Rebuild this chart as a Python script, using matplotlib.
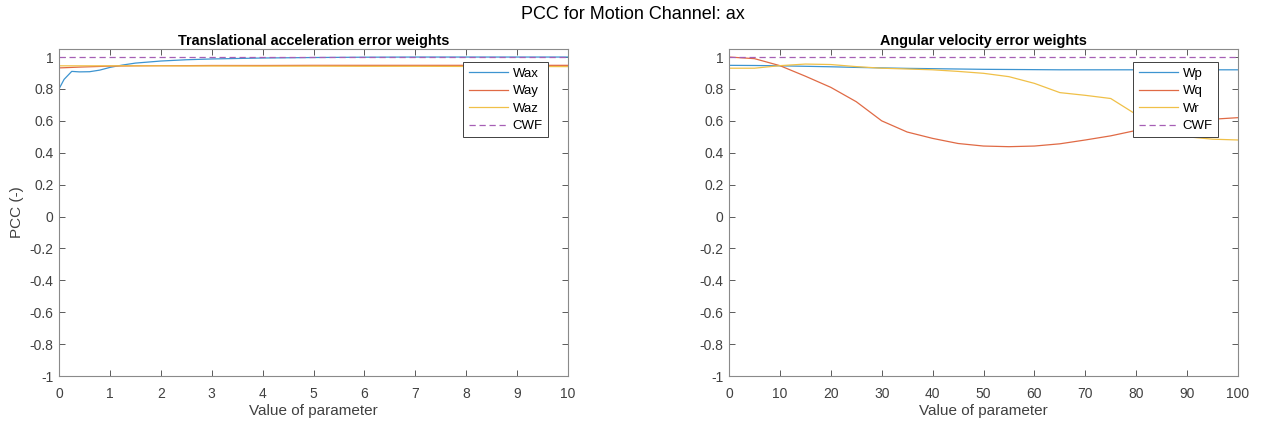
import numpy as np
import matplotlib
matplotlib.use("Agg")
import matplotlib.pyplot as plt

plt.rcParams['font.family'] = ['Liberation Sans', 'DejaVu Sans']

# translational acceleration weights (parameter 0..10)
x_trans = [0, 0.1, 0.25, 0.4, 0.6, 0.8, 1.0, 1.25, 1.5, 2.0, 2.5, 3.0, 4.0, 5.0, 6.0, 7.0, 8.0, 9.0, 10.0]
wax = [0.80, 0.86, 0.91, 0.907, 0.908, 0.918, 0.935, 0.950, 0.962, 0.975, 0.983, 0.988, 0.994, 0.997, 0.999, 1.0, 1.0, 1.0, 1.0]
way = [0.932, 0.933, 0.935, 0.937, 0.939, 0.941, 0.943, 0.944, 0.945, 0.946, 0.946, 0.947, 0.947, 0.948, 0.948, 0.948, 0.948, 0.948, 0.948]
waz = [0.945, 0.945, 0.945, 0.945, 0.945, 0.945, 0.945, 0.945, 0.945, 0.945, 0.944, 0.944, 0.943, 0.943, 0.942, 0.942, 0.941, 0.941, 0.940]

# angular velocity weights (parameter 0..100)
x_ang = [0, 5, 10, 15, 20, 25, 30, 35, 40, 45, 50, 55, 60, 65, 70, 75, 80, 85, 90, 95, 100]
wp = [0.948, 0.947, 0.945, 0.942, 0.939, 0.935, 0.932, 0.929, 0.927, 0.925, 0.923, 0.922, 0.921, 0.920, 0.920, 0.920, 0.920, 0.920, 0.920, 0.920, 0.920]
wq = [1.0, 0.99, 0.946, 0.88, 0.81, 0.72, 0.60, 0.53, 0.49, 0.458, 0.442, 0.438, 0.442, 0.456, 0.48, 0.506, 0.54, 0.57, 0.60, 0.61, 0.62]
wr = [0.93, 0.93, 0.946, 0.956, 0.953, 0.94, 0.93, 0.925, 0.92, 0.91, 0.898, 0.877, 0.835, 0.777, 0.76, 0.74, 0.64, 0.54, 0.50, 0.485, 0.48]
cwf = 1.0

yticks = [-1, -0.8, -0.6, -0.4, -0.2, 0, 0.2, 0.4, 0.6, 0.8, 1]
ytick_labels = ['-1', '-0.8', '-0.6', '-0.4', '-0.2', '0', '0.2', '0.4', '0.6', '0.8', '1']

colors = ['#3d94d0', '#e06a45', '#f0c048']
cwf_color = '#a65fb5'
text_color = '#404040'

panels = [
    ('Translational acceleration error weights', x_trans, [wax, way, waz], ['Wax', 'Way', 'Waz'],
     (0, 10), np.arange(0, 11, 1)),
    ('Angular velocity error weights', x_ang, [wp, wq, wr], ['Wp', 'Wq', 'Wr'],
     (0, 100), np.arange(0, 101, 10)),
]

fig = plt.figure(figsize=(12.66, 4.23), dpi=100)
fig.suptitle('PCC for Motion Channel: ax', fontsize=13, y=0.985)

lefts = [59 / 1266, 729 / 1266]
for i, (title, xs, series, names, xlim, xticks) in enumerate(panels):
    ax = fig.add_axes([lefts[i], 0.111, 509 / 1266, 0.773])
    for ys, name, c in zip(series, names, colors):
        ax.plot(xs, ys, color=c, lw=0.9, label=name)
    ax.plot(xlim, [cwf, cwf], color=cwf_color, lw=0.9, ls=(0, (5, 3)), label='CWF')

    ax.set_xlim(*xlim)
    ax.set_ylim(-1, 1.05)
    ax.set_xticks(xticks)
    ax.set_yticks(yticks)
    ax.set_yticklabels(ytick_labels)
    ax.tick_params(direction='in', top=True, right=True, length=4, width=0.6,
                   labelsize=10, colors=text_color)
    ax.tick_params(axis='x', pad=8)
    ax.tick_params(axis='y', pad=4)
    for s in ax.spines.values():
        s.set_color('#8a8a8a')
        s.set_linewidth(0.8)

    ax.set_title(title, fontsize=10.4, fontweight='bold', pad=3)
    ax.set_xlabel('Value of parameter', fontsize=11, color=text_color, labelpad=2)
    if i == 0:
        ax.set_ylabel('PCC (-)', fontsize=11, color=text_color, labelpad=4)

    leg = ax.legend(loc='upper right', bbox_to_anchor=(0.961, 0.96), borderaxespad=0,
                    fontsize=9.5, fancybox=False, framealpha=1, handlelength=3.0,
                    handletextpad=0.35, borderpad=0.4, labelspacing=0.4)
    leg.get_frame().set_edgecolor('#404040')
    leg.get_frame().set_linewidth(0.7)

fig.savefig('out.png', dpi=100)
